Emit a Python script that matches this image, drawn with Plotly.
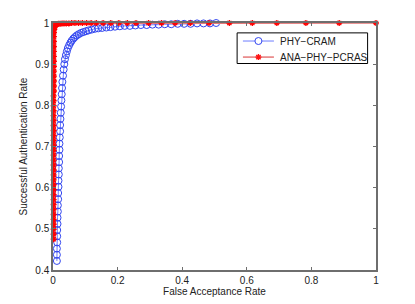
import plotly.graph_objects as go

# PHY-CRAM (blue circles)
cram_far = [0.012, 0.012, 0.012, 0.013, 0.013, 0.013, 0.014, 0.014, 0.015, 0.015,
            0.016, 0.016, 0.017, 0.017, 0.018, 0.018, 0.019, 0.019, 0.020, 0.020,
            0.021, 0.022, 0.022, 0.023, 0.024, 0.025, 0.026, 0.027, 0.028, 0.029,
            0.031, 0.033, 0.035, 0.037, 0.040, 0.043, 0.046, 0.050, 0.054, 0.058,
            0.063, 0.068, 0.074, 0.080, 0.087, 0.094, 0.102, 0.110, 0.120, 0.130,
            0.140, 0.152, 0.165, 0.178, 0.192, 0.207, 0.222, 0.238, 0.255, 0.272,
            0.290, 0.308, 0.327, 0.346, 0.366, 0.386, 0.406, 0.426, 0.446, 0.466,
            0.486, 0.505]
cram_sar = [0.422, 0.437, 0.452, 0.467, 0.482, 0.497, 0.512, 0.527, 0.542, 0.557,
            0.572, 0.587, 0.602, 0.617, 0.632, 0.647, 0.662, 0.677, 0.692, 0.707,
            0.722, 0.737, 0.752, 0.767, 0.782, 0.797, 0.812, 0.827, 0.842, 0.857,
            0.872, 0.887, 0.900, 0.912, 0.922, 0.931, 0.939, 0.946, 0.952, 0.957,
            0.962, 0.966, 0.970, 0.973, 0.976, 0.978, 0.980, 0.982, 0.984, 0.986,
            0.987, 0.988, 0.989, 0.990, 0.991, 0.992, 0.993, 0.993, 0.994, 0.995,
            0.995, 0.996, 0.996, 0.997, 0.997, 0.998, 0.998, 0.998, 0.999, 0.999,
            0.999, 1.000]

# ANA-PHY-PCRAS (red stars)
pcras_far = [0.002, 0.002, 0.002, 0.002, 0.002, 0.002, 0.002, 0.002, 0.002, 0.002,
             0.002, 0.002, 0.002, 0.002, 0.002, 0.002, 0.002, 0.002, 0.002, 0.002,
             0.002, 0.002, 0.002, 0.002, 0.002, 0.002, 0.002, 0.002, 0.002, 0.002,
             0.003, 0.003, 0.003, 0.003, 0.003, 0.003, 0.003, 0.003, 0.003, 0.003,
             0.003, 0.003, 0.003,
             0.004, 0.005, 0.007, 0.010, 0.013, 0.017, 0.022, 0.028, 0.034, 0.041,
             0.049, 0.058, 0.068, 0.079, 0.091, 0.104, 0.118, 0.134,
             0.155, 0.179, 0.204, 0.230, 0.257, 0.296, 0.336, 0.378, 0.425, 0.483,
             0.546, 0.617, 0.693, 0.783, 0.886, 1.000]
pcras_sar = [0.475, 0.487, 0.499, 0.511, 0.523, 0.535, 0.547, 0.559, 0.571, 0.583,
             0.595, 0.607, 0.619, 0.631, 0.643, 0.655, 0.667, 0.679, 0.691, 0.703,
             0.715, 0.727, 0.739, 0.751, 0.763, 0.775, 0.787, 0.799, 0.811, 0.823,
             0.835, 0.847, 0.859, 0.871, 0.883, 0.895, 0.907, 0.919, 0.931, 0.943,
             0.955, 0.967, 0.977,
             0.985, 0.990, 0.994, 0.996, 0.997, 0.998, 0.998, 0.999, 0.999, 0.999,
             0.999, 1.000, 1.000, 1.000, 1.000, 1.000, 1.000, 1.000,
             1.000, 1.000, 1.000, 1.000, 1.000, 1.000, 1.000, 1.000, 1.000, 1.000,
             1.000, 1.000, 1.000, 1.000, 1.000, 1.000]

series_names = ["PHY\u2212CRAM", "ANA\u2212PHY\u2212PCRAS"]

x_ticks = [0, 0.2, 0.4, 0.6, 0.8, 1]
x_tick_text = ["0", "0.2", "0.4", "0.6", "0.8", "1"]
y_ticks = [0.4, 0.5, 0.6, 0.7, 0.8, 0.9, 1]
y_tick_text = ["0.4", "0.5", "0.6", "0.7", "0.8", "0.9", "1"]

FONT = "Liberation Sans, Arial, sans-serif"
BLUE = "rgb(50,70,240)"
BLUE_LINE = "rgba(60,80,255,0.75)"
RED = "rgb(255,20,20)"
RED_LINE = "rgb(230,120,120)"

fig = go.Figure()
fig.add_trace(go.Scatter(
    x=cram_far, y=cram_sar, name=series_names[0], mode="lines+markers",
    line=dict(color=BLUE_LINE, width=1),
    marker=dict(symbol="circle-open", size=7, color=BLUE,
                line=dict(width=1, color=BLUE)),
    cliponaxis=False, showlegend=False,
))
fig.add_trace(go.Scatter(
    x=pcras_far, y=pcras_sar, name=series_names[1], mode="lines+markers",
    line=dict(color=RED_LINE, width=1.5),
    marker=dict(symbol="asterisk-open", size=5, color="red",
                line=dict(width=1.4, color=RED)),
    cliponaxis=False, showlegend=False,
))

axis_common = dict(
    showline=True, linecolor="rgb(110,110,110)", linewidth=1.5, mirror="ticks",
    ticks="inside", ticklen=3, tickcolor="rgb(110,110,110)", tickwidth=1,
    showgrid=False, zeroline=False, automargin=False,
    tickfont=dict(family=FONT, size=10, color="#222"),
)
fig.update_xaxes(range=[0, 1], tickvals=x_ticks, ticktext=x_tick_text,
                 title=dict(text="False Acceptance Rate", standoff=2,
                            font=dict(family=FONT, size=10, color="#222")),
                 **axis_common)
fig.update_yaxes(range=[0.4, 1], tickvals=y_ticks, ticktext=y_tick_text,
                 title=dict(text="Successful Authentication Rate", standoff=6,
                            font=dict(family=FONT, size=10, color="#222")),
                 **axis_common)

# Compact MATLAB-style legend (box, sample lines, markers, labels)
lg_x0, lg_x1, lg_y0, lg_y1 = 0.570, 0.974, 0.836, 0.960
row_y = [0.927, 0.862]
samp_x0, samp_x1, samp_xm, text_x = 0.588, 0.684, 0.636, 0.697
shapes = [dict(type="rect", xref="paper", yref="paper", x0=lg_x0, x1=lg_x1,
               y0=lg_y0, y1=lg_y1, line=dict(color="black", width=1),
               fillcolor="white", layer="above")]
annotations = []
line_cols = [BLUE_LINE, RED_LINE]
for i, ry in enumerate(row_y):
    shapes.append(dict(type="line", xref="paper", yref="paper", x0=samp_x0, x1=samp_x1,
                       y0=ry, y1=ry, line=dict(color=line_cols[i], width=1 if i == 0 else 1.5),
                       layer="above"))
    annotations.append(dict(x=text_x, y=ry, xref="paper", yref="paper", text=series_names[i],
                            showarrow=False, xanchor="left", yanchor="middle",
                            font=dict(family=FONT, size=10, color="#222")))
shapes.append(dict(type="circle", xref="paper", yref="paper", xsizemode="pixel",
                   ysizemode="pixel", xanchor=samp_xm, yanchor=row_y[0],
                   x0=-3.5, x1=3.5, y0=-3.5, y1=3.5, fillcolor="white",
                   line=dict(color=BLUE, width=1), layer="above"))
shapes.append(dict(type="path", xref="paper", yref="paper", xsizemode="pixel",
                   ysizemode="pixel", xanchor=samp_xm, yanchor=row_y[1],
                   path="M-3,0H3M0,-3V3M-2.2,-2.2L2.2,2.2M-2.2,2.2L2.2,-2.2",
                   line=dict(color=RED, width=1.4), layer="above"))

fig.update_layout(
    width=415, height=304,
    margin=dict(l=53, r=39, t=23, b=34),
    paper_bgcolor="white", plot_bgcolor="white",
    showlegend=False,
    shapes=shapes, annotations=annotations,
)

fig.write_html("out.html", config={"displayModeBar": False},
               post_script="document.body.style.margin='0';")
